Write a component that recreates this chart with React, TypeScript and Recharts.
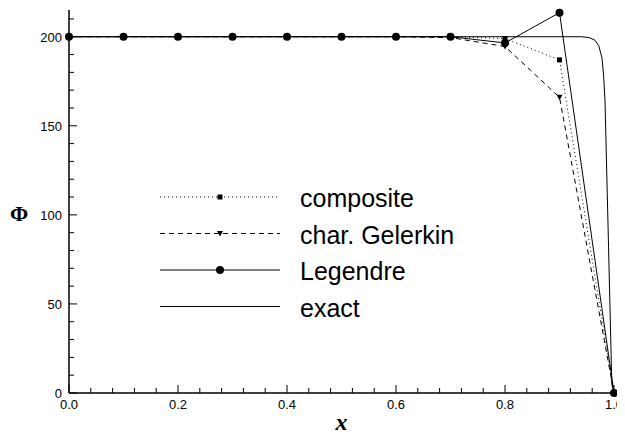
import { LineChart, Line, XAxis, YAxis, Legend, Label } from 'recharts'

// nodal values (x = 0, 0.1, ..., 1.0)
const xNodes = [0, 0.1, 0.2, 0.3, 0.4, 0.5, 0.6, 0.7, 0.8, 0.9, 1.0]
const compositeVals = [200, 200, 200, 200, 200, 200, 200, 200, 199, 187, 0]
const gelerkinVals = [200, 200, 200, 200, 200, 200, 200, 199.5, 194.5, 166, 0]
const legendreVals = [200, 200, 200, 200, 200, 200, 200, 200, 196.5, 213.5, 0]

// exact solution
const exactX = [0, 0.94, 0.955, 0.965, 0.972, 0.978, 0.981, 0.9835, 0.99, 0.996, 1.0]
const exactVals = [200, 200, 199.5, 198, 195, 188, 178, 164, 82, 5, 0]

const xTicks = [
  0, 0.04, 0.08, 0.12, 0.16, 0.2, 0.24, 0.28, 0.32, 0.36, 0.4, 0.44, 0.48,
  0.52, 0.56, 0.6, 0.64, 0.68, 0.72, 0.76, 0.8, 0.84, 0.88, 0.92, 0.96, 1.0,
]
const yTicks = [0, 10, 20, 30, 40, 50, 60, 70, 80, 90, 100, 110, 120, 130, 140, 150, 160, 170, 180, 190, 200, 210]

const toRows = (xs: number[], ys: number[]) => xs.map((x, i) => ({ x, phi: ys[i] }))
const composite = toRows(xNodes, compositeVals)
const gelerkin = toRows(xNodes, gelerkinVals)
const legendre = toRows(xNodes, legendreVals)
const exact = toRows(exactX, exactVals)

const FONT = '"Liberation Sans", Arial, Helvetica, sans-serif'
const SERIF = '"Liberation Serif", "Times New Roman", serif'

const isMajorX = (v: number) => Math.abs(v * 5 - Math.round(v * 5)) < 1e-6
const isMajorY = (v: number) => v % 50 === 0

const XTick = (props: any) => {
  const { x, y, payload } = props
  const major = isMajorX(payload.value)
  const last = payload.value >= 1
  return (
    <g>
      <line x1={x} y1={y} x2={x} y2={y - (major ? 8 : 5)} stroke="#000" strokeWidth={1} />
      {major && (
        <text x={last ? x + 9 : x} y={y + 16} textAnchor={last ? 'end' : 'middle'} fontSize={13} fontFamily={FONT} fill="#000">
          {payload.value.toFixed(1)}
        </text>
      )}
    </g>
  )
}

const YTick = (props: any) => {
  const { x, y, payload } = props
  const major = isMajorY(payload.value)
  return (
    <g>
      <line x1={x} y1={y} x2={x + (major ? 8 : 5)} y2={y} stroke="#000" strokeWidth={1} />
      {major && (
        <text x={x - 7} y={y + 5} textAnchor="end" fontSize={13} fontFamily={FONT} fill="#000">
          {payload.value}
        </text>
      )}
    </g>
  )
}

const SquareDot = (p: any) =>
  p.cx == null ? null : <rect key={p.index} x={p.cx - 2.5} y={p.cy - 2.5} width={5} height={5} fill="#000" />

const TriDot = (p: any) =>
  p.cx == null ? null : (
    <path key={p.index} d={`M${p.cx - 3},${p.cy - 2.5}L${p.cx + 3},${p.cy - 2.5}L${p.cx},${p.cy + 3}Z`} fill="#000" />
  )

const series = [
  { name: 'composite', dash: '1 3', marker: 'square' },
  { name: 'char. Gelerkin', dash: '5 4', marker: 'tri' },
  { name: 'Legendre', dash: undefined, marker: 'circle' },
  { name: 'exact', dash: undefined, marker: 'none' },
]

const renderLegend = () => (
  <svg width={330} height={150}>
    {series.map((s, i) => {
      const y = 19 + i * 36.5
      return (
        <g key={s.name}>
          <line x1={12} y1={y} x2={132} y2={y} stroke="#000" strokeWidth={1} strokeDasharray={s.dash} />
          {s.marker === 'square' && <rect x={69.5} y={y - 2.5} width={5} height={5} fill="#000" />}
          {s.marker === 'tri' && <path d={`M69,${y - 2.5}L75,${y - 2.5}L72,${y + 3}Z`} fill="#000" />}
          {s.marker === 'circle' && <circle cx={72} cy={y} r={4} fill="#000" />}
          <text x={152} y={y + 10} fontSize={25} fontFamily={FONT} fill="#000">{s.name}</text>
        </g>
      )
    })}
  </svg>
)

export default function App() {
  return (
    <LineChart width={617} height={427} margin={{ top: 2, right: 11, bottom: 0, left: 0 }}>
      <XAxis
        type="number"
        dataKey="x"
        domain={[0, 1]}
        ticks={xTicks}
        interval={0}
        tickSize={0}
        tickMargin={0}
        height={42}
        axisLine={{ stroke: '#000', strokeWidth: 1.5 }}
        tick={<XTick />}
      >
        <Label
          content={({ viewBox }: any) => (
            <text x={viewBox.x + viewBox.width / 2} y={viewBox.y + 37} textAnchor="middle" fontSize={24}
              fontStyle="italic" fontWeight="bold" fontFamily={SERIF} fill="#000">x</text>
          )}
        />
      </XAxis>
      <YAxis
        type="number"
        domain={[0, 215]}
        ticks={yTicks}
        interval={0}
        tickSize={0}
        tickMargin={0}
        width={61}
        axisLine={{ stroke: '#000', strokeWidth: 1.5 }}
        tick={<YTick />}
      >
        <Label
          content={({ viewBox }: any) => (
            <text x={viewBox.x + 11} y={viewBox.y + 211} textAnchor="middle" fontSize={22}
              fontWeight="bold" fontFamily={SERIF} fill="#000">Φ</text>
          )}
        />
      </YAxis>
      <Legend
        layout="vertical"
        align="center"
        verticalAlign="middle"
        content={renderLegend}
        wrapperStyle={{ left: 140, top: 170, width: 330 }}
      />
      <Line data={exact} dataKey="phi" stroke="#000" strokeWidth={1} dot={false} isAnimationActive={false} />
      <Line data={gelerkin} dataKey="phi" stroke="#000" strokeWidth={1} strokeDasharray="5 4" dot={<TriDot />} isAnimationActive={false} />
      <Line data={composite} dataKey="phi" stroke="#000" strokeWidth={1} strokeDasharray="1 3" dot={<SquareDot />} isAnimationActive={false} />
      <Line data={legendre} dataKey="phi" stroke="#000" strokeWidth={1} dot={{ r: 4, fill: '#000', stroke: '#000', strokeWidth: 0 }} isAnimationActive={false} />
    </LineChart>
  )
}
